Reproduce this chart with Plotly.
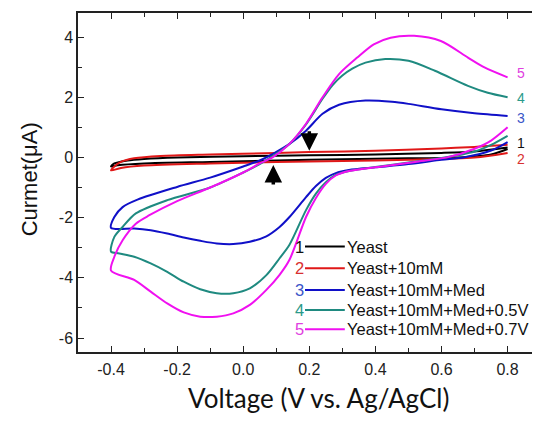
import plotly.graph_objects as go

# ---------------- data (voltage V, current uA), path: reverse scan 0.8 -> -0.4 then forward -0.4 -> 0.8
yeast_v = [0.80, 0.75, 0.65, 0.50, 0.30, 0.10, -0.10, -0.30, -0.38, -0.40,
           -0.39, -0.35, -0.30, -0.20, 0.00, 0.20, 0.40, 0.60, 0.70, 0.80]
yeast_i = [0.28, 0.10, 0.00, -0.03, -0.06, -0.10, -0.15, -0.20, -0.26, -0.30,
           -0.20, -0.10, -0.05, 0.00, 0.04, 0.07, 0.10, 0.15, 0.20, 0.33]

y10_v = [0.80, 0.70, 0.50, 0.30, 0.10, -0.10, -0.30, -0.37, -0.40,
         -0.39, -0.37, -0.33, -0.25, -0.10, 0.10, 0.20, 0.40, 0.60, 0.70, 0.80]
y10_i = [0.15, 0.00, -0.08, -0.12, -0.15, -0.20, -0.27, -0.35, -0.43,
         -0.30, -0.15, -0.03, 0.05, 0.10, 0.15, 0.18, 0.22, 0.30, 0.35, 0.42]

med_v = [0.80, 0.75, 0.67, 0.60, 0.50, 0.40, 0.32, 0.28, 0.25, 0.22, 0.19, 0.14, 0.11, 0.07, 0.02,
         -0.03, -0.08, -0.13, -0.18, -0.23, -0.28, -0.33, -0.40,
         -0.39, -0.365, -0.32, -0.20, -0.10, 0.00, 0.05, 0.09, 0.14, 0.19, 0.24, 0.29, 0.37,
         0.45, 0.50, 0.60, 0.70, 0.80]
med_i = [0.51, 0.23, 0.01, -0.08, -0.22, -0.33, -0.42, -0.52, -0.68, -0.95, -1.32, -1.98, -2.31, -2.62, -2.80,
         -2.88, -2.86, -2.77, -2.66, -2.53, -2.42, -2.36, -2.34,
         -1.98, -1.65, -1.40, -0.98, -0.67, -0.30, -0.10, 0.12, 0.45, 0.89, 1.45, 1.75, 1.89,
         1.85, 1.78, 1.60, 1.47, 1.38]

v05_v = [0.80, 0.75, 0.70, 0.60, 0.50, 0.40, 0.32, 0.28, 0.25, 0.22, 0.19, 0.14, 0.11, 0.07, 0.02,
         -0.03, -0.08, -0.13, -0.18, -0.23, -0.28, -0.33, -0.375, -0.40,
         -0.39, -0.365, -0.325, -0.23, -0.10, 0.00, 0.05, 0.09, 0.14, 0.19, 0.24, 0.27, 0.30,
         0.33, 0.37, 0.43, 0.50, 0.58, 0.68, 0.74, 0.80]
v05_i = [0.72, 0.42, 0.20, -0.02, -0.17, -0.32, -0.45, -0.58, -0.82, -1.20, -1.75, -2.90, -3.35, -3.91, -4.35,
         -4.51, -4.51, -4.38, -4.13, -3.80, -3.52, -3.30, -3.19, -3.13,
         -2.64, -2.31, -1.86, -1.42, -1.00, -0.50, -0.22, 0.05, 0.45, 1.10, 1.95, 2.40, 2.72,
         2.95, 3.15, 3.27, 3.21, 2.88, 2.38, 2.15, 2.00]

v07_v = [0.80, 0.75, 0.70, 0.62, 0.52, 0.42, 0.32, 0.28, 0.25, 0.22, 0.19, 0.14, 0.11, 0.07, 0.02,
         -0.03, -0.08, -0.13, -0.18, -0.23, -0.28, -0.33, -0.40,
         -0.39, -0.365, -0.325, -0.284, -0.20, -0.10, 0.00, 0.05, 0.09, 0.14, 0.19, 0.24, 0.29,
         0.345, 0.395, 0.446, 0.517, 0.598, 0.68, 0.73, 0.80]
v07_i = [1.00, 0.56, 0.29, 0.01, -0.15, -0.30, -0.45, -0.60, -0.88, -1.35, -1.98, -3.40, -3.90, -4.40, -4.90,
         -5.18, -5.29, -5.29, -5.15, -4.85, -4.46, -4.07, -3.76,
         -3.30, -2.75, -2.20, -1.92, -1.45, -1.00, -0.50, -0.20, 0.01, 0.45, 1.12, 2.00, 2.77,
         3.32, 3.76, 3.98, 4.04, 3.87, 3.32, 2.99, 2.66]

series_names = ["Yeast", "Yeast+10mM", "Yeast+10mM+Med", "Yeast+10mM+Med+0.5V", "Yeast+10mM+Med+0.7V"]
series_nums = ["1", "2", "3", "4", "5"]
line_colors = ["#000000", "#e01818", "#1010c8", "#1f8a80", "#f010f0"]
num_colors = ["#111111", "#d83030", "#3a55c8", "#2a9a8a", "#e040e0"]
end_label_y = [0.48, -0.06, 1.32, 1.98, 2.80]

x_ticks = [-0.4, -0.2, 0.0, 0.2, 0.4, 0.6, 0.8]
y_ticks = [-6, -4, -2, 0, 2, 4]

volts = [yeast_v, y10_v, med_v, v05_v, v07_v]
currents = [yeast_i, y10_i, med_i, v05_i, v07_i]

fig = go.Figure()
for v, i, c, n in zip(volts, currents, line_colors, series_names):
    fig.add_trace(go.Scatter(x=v, y=i, mode="lines", name=n,
                             line=dict(color=c, width=2, shape="spline", smoothing=0.8),
                             showlegend=False, hoverinfo="skip"))

arial = "Liberation Sans, Arial, sans-serif"
axis_font = dict(family=arial, size=16, color="#222222")
# page body has an 8px margin, so the figure is 8px smaller and margins shifted accordingly
fig.update_layout(
    width=532, height=414,
    margin=dict(l=70, r=2, t=5, b=70),
    paper_bgcolor="white", plot_bgcolor="white",
    showlegend=False,
    xaxis=dict(range=[-0.5, 0.892], tickvals=x_ticks, ticktext=[f"{t:.1f}" for t in x_ticks],
               ticks="inside", ticklen=6, tickwidth=1.2, tickcolor="#222",
               showline=True, linecolor="#222", linewidth=1.5, mirror="allticks",
               showgrid=False, zeroline=False, tickfont=axis_font, automargin=False,
               ticklabelstandoff=2,
               minor=dict(tickvals=[-0.3, -0.1, 0.1, 0.3, 0.5, 0.7], ticks="inside",
                          ticklen=4, tickwidth=1.2, tickcolor="#222")),
    yaxis=dict(range=[-6.465, 4.8], tickvals=y_ticks, ticktext=[str(t) for t in y_ticks],
               ticks="inside", ticklen=6, tickwidth=1.2, tickcolor="#222",
               showline=True, linecolor="#222", linewidth=1.5, mirror="allticks",
               showgrid=False, zeroline=False, tickfont=axis_font, automargin=False,
               ticklabelstandoff=0,
               minor=dict(tickvals=[-5, -3, -1, 1, 3], ticks="inside",
                          ticklen=4, tickwidth=1.2, tickcolor="#222")),
)

# axis titles
fig.add_annotation(x=0.522, y=-0.136, xref="paper", yref="paper", text="Voltage (V vs. Ag/AgCl)",
                   showarrow=False, xanchor="center", yanchor="middle",
                   font=dict(family="Lato, Open Sans, sans-serif", size=26, color="#111"))
fig.add_annotation(x=-0.106, y=0.51, xref="paper", yref="paper", text="Curmet(μA)", textangle=-90,
                   showarrow=False, xanchor="center", yanchor="middle",
                   font=dict(family=arial, size=22, color="#111"))

# end-of-curve number labels
for num, col, yl in zip(series_nums, num_colors, end_label_y):
    fig.add_annotation(x=0.84, y=yl, xref="x", yref="y", text=num, showarrow=False, borderpad=0,
                       font=dict(family=arial, size=14, color=col))

# arrows
fig.add_annotation(x=0.2, y=0.22, ax=0.2, ay=0.92, xref="x", yref="y", axref="x", ayref="y",
                   showarrow=True, arrowhead=2, arrowsize=1, arrowwidth=3.5, arrowcolor="#000", text="")
fig.add_annotation(x=0.091, y=-0.25, ax=0.091, ay=-0.95, xref="x", yref="y", axref="x", ayref="y",
                   showarrow=True, arrowhead=2, arrowsize=1, arrowwidth=3.5, arrowcolor="#000", text="")

# manual legend (number, line sample, text)
row_y = [0.311, 0.247, 0.183, 0.124, 0.067]
for name, num, lc, nc, ry in zip(series_names, series_nums, line_colors, num_colors, row_y):
    fig.add_shape(type="line", xref="paper", yref="paper", x0=0.4935, x1=0.58, y0=ry, y1=ry,
                  line=dict(color=lc, width=2))
    fig.add_annotation(x=0.4935, y=ry, xref="paper", yref="paper", text=num, showarrow=False,
                       xanchor="right", yanchor="middle", borderpad=0,
                       font=dict(family=arial, size=16.5, color=nc))
    fig.add_annotation(x=0.583, y=ry, xref="paper", yref="paper", text=name, showarrow=False,
                       xanchor="left", yanchor="middle", borderpad=0,
                       font=dict(family=arial, size=16.5, color="#111"))

fig.write_html("out.html")
